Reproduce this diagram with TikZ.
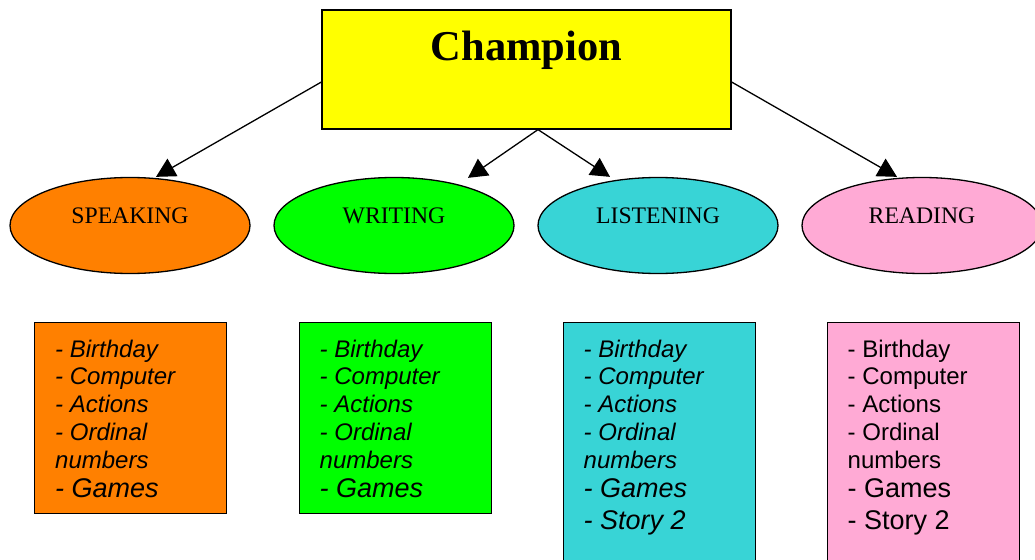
\documentclass[tikz,border=0pt]{standalone}
\usepackage{fontspec}
\setmainfont{Liberation Serif}
\newfontfamily\arialf{Liberation Sans}
\usetikzlibrary{arrows.meta,shapes.geometric}
\definecolor{cOrange}{RGB}{255,128,0}
\definecolor{cGreen}{RGB}{0,255,0}
\definecolor{cCyan}{RGB}{56,212,214}
\definecolor{cPink}{RGB}{255,170,213}
\definecolor{cYellow}{RGB}{255,255,0}
\begin{document}
\begin{tikzpicture}[x=1pt,y=-1pt,
  topic/.style={ellipse, draw, line width=1.3pt, minimum width=240pt, minimum height=96pt,
    inner sep=0pt, text height=16pt, text depth=21pt, font=\fontsize{23.7}{26}\selectfont},
  listbox/.style={draw, line width=1.2pt, minimum width=192pt, anchor=north west, inner sep=0pt},
  item/.style={anchor=base west, inner sep=0pt, font=\arialf\fontsize{24}{28}\selectfont},
  bigitem/.style={anchor=base west, inner sep=0pt, font=\arialf\fontsize{27}{30}\selectfont},
  arr/.style={line width=1.3pt, -{Triangle[length=19pt,width=20pt]}}
]
\clip (0,0) rectangle (1035,559);
\fill[white] (0,0) rectangle (1035,559);

% title
\node[draw, fill=cYellow, line width=1.2pt, minimum width=409pt, minimum height=119pt,
      inner sep=0pt, text height=30pt, text depth=47pt,
      font=\bfseries\fontsize{42.5}{48}\selectfont] (champ) at (526.5,69.5) {Champion};

% topics
\node[topic, fill=cOrange] (spk) at (130,225.5) {SPEAKING};
\node[topic, fill=cGreen]  (wri) at (394,225.5) {WRITING};
\node[topic, fill=cCyan]   (lis) at (658,225.5) {LISTENING};
\node[topic, fill=cPink]   (rea) at (922,225.5) {READING};

% arrows
\draw[arr] ([yshift=-12.5pt]champ.west) -- ([xshift=26pt]spk.north);
\draw[arr] ([xshift=11.5pt]champ.south) -- ([xshift=74pt,yshift=-1pt]wri.north);
\draw[arr] ([xshift=11.5pt]champ.south) -- ([xshift=-48pt]lis.north);
\draw[arr] ([yshift=-12.5pt]champ.east) -- ([xshift=-25pt]rea.north);

% boxes
\node[listbox, fill=cOrange, minimum height=191pt] (sbox) at (34,322) {};
\node[listbox, fill=cGreen,  minimum height=191pt] (wbox) at (298.5,322) {};
\node[listbox, fill=cCyan,   minimum height=260pt] (lbox) at (562.5,322) {};
\node[listbox, fill=cPink,   minimum height=260pt] (rbox) at (827,322) {};

% items
\foreach \yy/\t [count=\i] in {357/- Birthday, 384.5/- Computer, 412/- Actions, 440/- Ordinal, 468/numbers}{
  \node[item] (s\i) at (55,\yy) {\itshape \t};
  \node[item] (w\i) at (319.5,\yy) {\itshape \t};
  \node[item] (l\i) at (583.5,\yy) {\itshape \t};
  \node[item] (r\i) at (847.5,\yy) {\t};
}
\node[bigitem] (sg) at (55,497) {\itshape - Games};
\node[bigitem] (wg) at (319.5,497) {\itshape - Games};
\node[bigitem] (lg) at (583.5,497) {\itshape - Games};
\node[bigitem] (rg) at (847.5,497) {- Games};
\node[bigitem] (ls) at (583.5,529) {\itshape - Story 2};
\node[bigitem] (rs) at (847.5,529) {- Story 2};
\end{tikzpicture}
\end{document}
